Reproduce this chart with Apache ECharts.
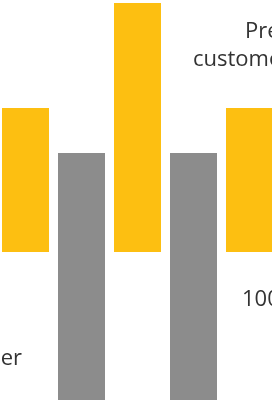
<!DOCTYPE html>
<html>
<head>
<meta charset="utf-8">
<script src="https://cdn.jsdelivr.net/npm/echarts@6/dist/echarts.min.js"></script>
<style>
html,body{margin:0;padding:0;background:#fff;}
#chart{width:272px;height:400px;}
</style>
</head>
<body>
<div id="chart"></div>
<script>
// Categories (five visible bar slots)
const categories = ['A', 'B', 'C', 'D', 'E'];
// Floating yellow bars: invisible base + visible height (in axis units)
const yellowBase = [148, '-', 148, '-', 148];
const yellowValues = [144, '-', 249, '-', 144];
// Gray bars from the axis floor
const grayValues = ['-', 247, '-', 247, '-'];
// Text fragments visible in the crop
const labelTopLine1 = 'Previous';
const labelTopLine2 = 'customers';
const labelRight = '100';
const labelLeft = 'Other';

const chart = echarts.init(document.getElementById('chart'), null, {renderer: 'canvas'});
const textStyle = {fontFamily: 'Open Sans', fontSize: 22, fill: '#333333'};
chart.setOption({
  animation: false,
  grid: {left: -2.5, width: 280, top: 0, bottom: 0, outerBoundsMode: 'none', containLabel: false},
  xAxis: {type: 'category', data: categories, show: false},
  yAxis: {type: 'value', min: 0, max: 400, show: false},
  series: [
    {type: 'bar', stack: 'y', data: yellowBase, barWidth: 47, barGap: '-100%',
     itemStyle: {color: 'transparent'}, silent: true},
    {type: 'bar', stack: 'y', data: yellowValues, barWidth: 47, barGap: '-100%',
     itemStyle: {color: '#fdbf11'}},
    {type: 'bar', stack: 'g', data: grayValues, barWidth: 47, barGap: '-100%',
     itemStyle: {color: '#8c8c8c'}}
  ],
  graphic: [
    {type: 'text', left: 245, top: 21, style: Object.assign({text: labelTopLine1}, textStyle)},
    {type: 'text', left: 193, top: 49, style: Object.assign({text: labelTopLine2}, textStyle)},
    {type: 'text', left: 242, top: 289, style: Object.assign({text: labelRight}, textStyle)},
    {type: 'text', right: 250, top: 348, style: Object.assign({text: labelLeft}, textStyle)}
  ]
});
</script>
</body>
</html>
